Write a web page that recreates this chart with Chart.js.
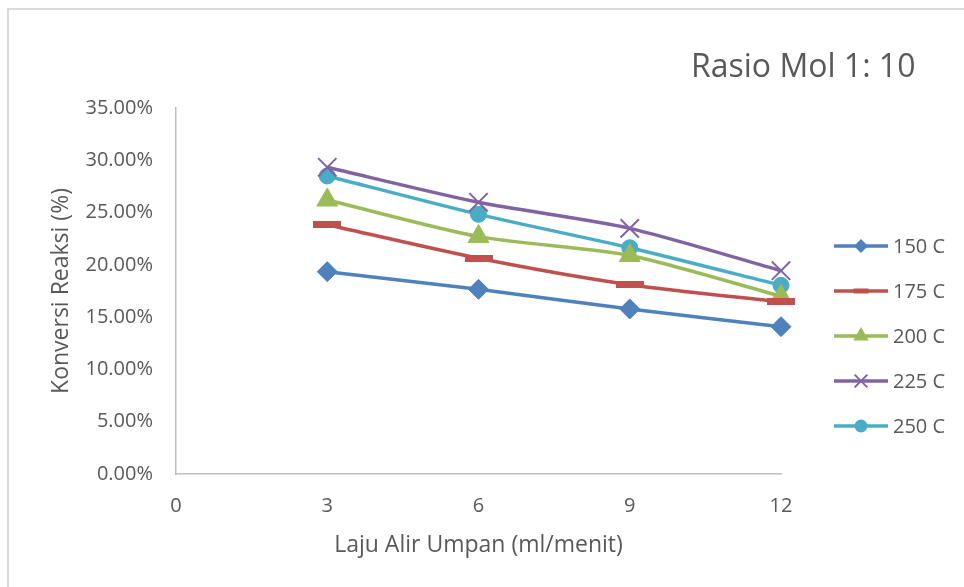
<!DOCTYPE html>
<html>
<head>
<meta charset="utf-8">
<script src="https://cdn.jsdelivr.net/npm/chart.js@4.4.0/dist/chart.umd.min.js"></script>
<style>
  html, body { margin: 0; padding: 0; background: #ffffff; }
  #wrap { position: relative; width: 964px; height: 587px; overflow: hidden; }
  canvas { display: block; }
</style>
</head>
<body>
<div id="wrap"><canvas id="c" width="964" height="587"></canvas></div>
<script>
// ---- data ----
const xValues = [3, 6, 9, 12];
const seriesNames = ['150 C', '175 C', '200 C', '225 C', '250 C'];
const s150 = [19.35, 17.66, 15.78, 14.09];
const s175 = [23.84, 20.63, 18.10, 16.45];
const s200 = [26.20, 22.70, 20.90, 17.00];
const s225 = [29.33, 25.98, 23.49, 19.44];
const s250 = [28.50, 24.83, 21.64, 18.04];
const xTicks = [0, 3, 6, 9, 12];
const yMin = 0, yMax = 35, yStep = 5;
const chartTitle = 'Rasio Mol 1: 10';
const xTitle = 'Laju Alir Umpan (ml/menit)';
const yTitle = 'Konversi Reaksi (%)';

// ---- styles ----
const colors = ['#4F81BD', '#C0504D', '#9BBB59', '#8064A2', '#4BACC6'];
const textColor = '#595959';
const FONT = '"Open Sans", "Noto Sans", sans-serif';

function dashImage(w, h, color) {
  const cv = document.createElement('canvas');
  cv.width = w; cv.height = h;
  const g = cv.getContext('2d');
  g.fillStyle = color;
  g.fillRect(0, 0, w, h);
  return cv;
}

const pointStyles = ['rectRot', dashImage(28, 7, colors[1]), 'triangle', 'crossRot', 'circle'];
const pointRadii = [10, 10, 12, 13, 8];
const pointBorders = [1, 0, 1, 2, 1];
const allSeries = [s150, s175, s200, s225, s250];

const datasets = allSeries.map((vals, i) => ({
  label: seriesNames[i],
  data: vals.map((v, k) => ({ x: xValues[k], y: v })),
  borderColor: colors[i],
  backgroundColor: colors[i],
  borderWidth: 3.5,
  tension: 0.25,
  pointStyle: pointStyles[i],
  pointRadius: pointRadii[i],
  pointHoverRadius: pointRadii[i],
  pointBorderWidth: pointBorders[i],
  pointBorderColor: colors[i],
  pointBackgroundColor: colors[i],
  clip: false
}));

// legend & decoration plugin
const legendMarkers = [
  { style: 'diamond', r: 7 },
  { style: 'dash', w: 15, h: 5 },
  { style: 'triangle', r: 9 },
  { style: 'x', r: 9 },
  { style: 'circle', r: 6.5 }
];

function drawMarker(ctx, m, x, y, color) {
  ctx.save();
  ctx.fillStyle = color;
  ctx.strokeStyle = color;
  ctx.beginPath();
  if (m.style === 'diamond') {
    ctx.moveTo(x - m.r, y); ctx.lineTo(x, y - m.r); ctx.lineTo(x + m.r, y); ctx.lineTo(x, y + m.r);
    ctx.closePath(); ctx.fill();
  } else if (m.style === 'dash') {
    ctx.fillRect(x - m.w / 2, y - m.h / 2, m.w, m.h);
  } else if (m.style === 'triangle') {
    const a = Math.PI * 2 / 3;
    for (let k = 0; k < 3; k++) {
      const px = x + Math.sin(k * a) * m.r, py = y - Math.cos(k * a) * m.r;
      if (k === 0) ctx.moveTo(px, py); else ctx.lineTo(px, py);
    }
    ctx.closePath(); ctx.fill();
  } else if (m.style === 'x') {
    const d = m.r * Math.SQRT1_2;
    ctx.lineWidth = 2;
    ctx.moveTo(x - d, y - d); ctx.lineTo(x + d, y + d);
    ctx.moveTo(x + d, y - d); ctx.lineTo(x - d, y + d);
    ctx.stroke();
  } else if (m.style === 'circle') {
    ctx.arc(x, y, m.r, 0, Math.PI * 2); ctx.fill();
  }
  ctx.restore();
}

const decor = {
  id: 'decor',
  beforeDraw(chart) {
    const ctx = chart.ctx;
    ctx.save();
    ctx.fillStyle = '#ffffff';
    ctx.fillRect(0, 0, chart.width, chart.height);
    ctx.strokeStyle = '#d9d9d9';
    ctx.lineWidth = 2;
    ctx.strokeRect(8, 9, 1000, 1000);
    ctx.restore();
  },
  afterDraw(chart) {
    const ctx = chart.ctx;
    ctx.save();
    // title
    ctx.fillStyle = textColor;
    ctx.font = '32px ' + FONT;
    ctx.textAlign = 'left';
    ctx.textBaseline = 'alphabetic';
    ctx.fillText(chartTitle, 691, 77);
    // legend
    chart.data.datasets.forEach((ds, i) => {
      const y = 246 + i * 45;
      ctx.strokeStyle = ds.borderColor;
      ctx.lineWidth = 3.5;
      ctx.beginPath();
      ctx.moveTo(834, y); ctx.lineTo(888, y);
      ctx.stroke();
      drawMarker(ctx, legendMarkers[i], 861, y, ds.borderColor);
      ctx.fillStyle = textColor;
      ctx.font = '20px ' + FONT;
      ctx.textAlign = 'left';
      ctx.textBaseline = 'middle';
      ctx.fillText(ds.label, 893, y + 1);
    });
    ctx.restore();
  }
};

new Chart(document.getElementById('c'), {
  type: 'line',
  data: { datasets },
  options: {
    responsive: false,
    animation: false,
    layout: { padding: { left: 0, top: 108, right: 183, bottom: 0 } },
    plugins: { legend: { display: false }, title: { display: false }, tooltip: { enabled: false } },
    scales: {
      x: {
        type: 'linear',
        min: 0, max: 12,
        afterFit(s) { s.height = 113; },
        afterBuildTicks(s) { s.ticks = xTicks.map(v => ({ value: v })); },
        grid: { display: false },
        border: { display: true, color: '#bfbfbf', width: 1.5 },
        ticks: { color: textColor, font: { family: FONT, size: 20 }, padding: 12, maxRotation: 0 },
        title: { display: true, text: xTitle, color: textColor, font: { family: FONT, size: 23 }, padding: { top: 28, bottom: 28 } }
      },
      y: {
        min: yMin, max: yMax,
        afterFit(s) { s.width = 176; },
        grid: { display: false },
        border: { display: true, color: '#bfbfbf', width: 1.5 },
        ticks: {
          stepSize: yStep,
          color: textColor,
          font: { family: FONT, size: 20 },
          padding: 15,
          callback: v => v.toFixed(2) + '%'
        },
        title: { display: true, text: yTitle, color: textColor, font: { family: FONT, size: 23 }, padding: { top: 48, bottom: 0 } }
      }
    }
  },
  plugins: [decor]
});
</script>
</body>
</html>
